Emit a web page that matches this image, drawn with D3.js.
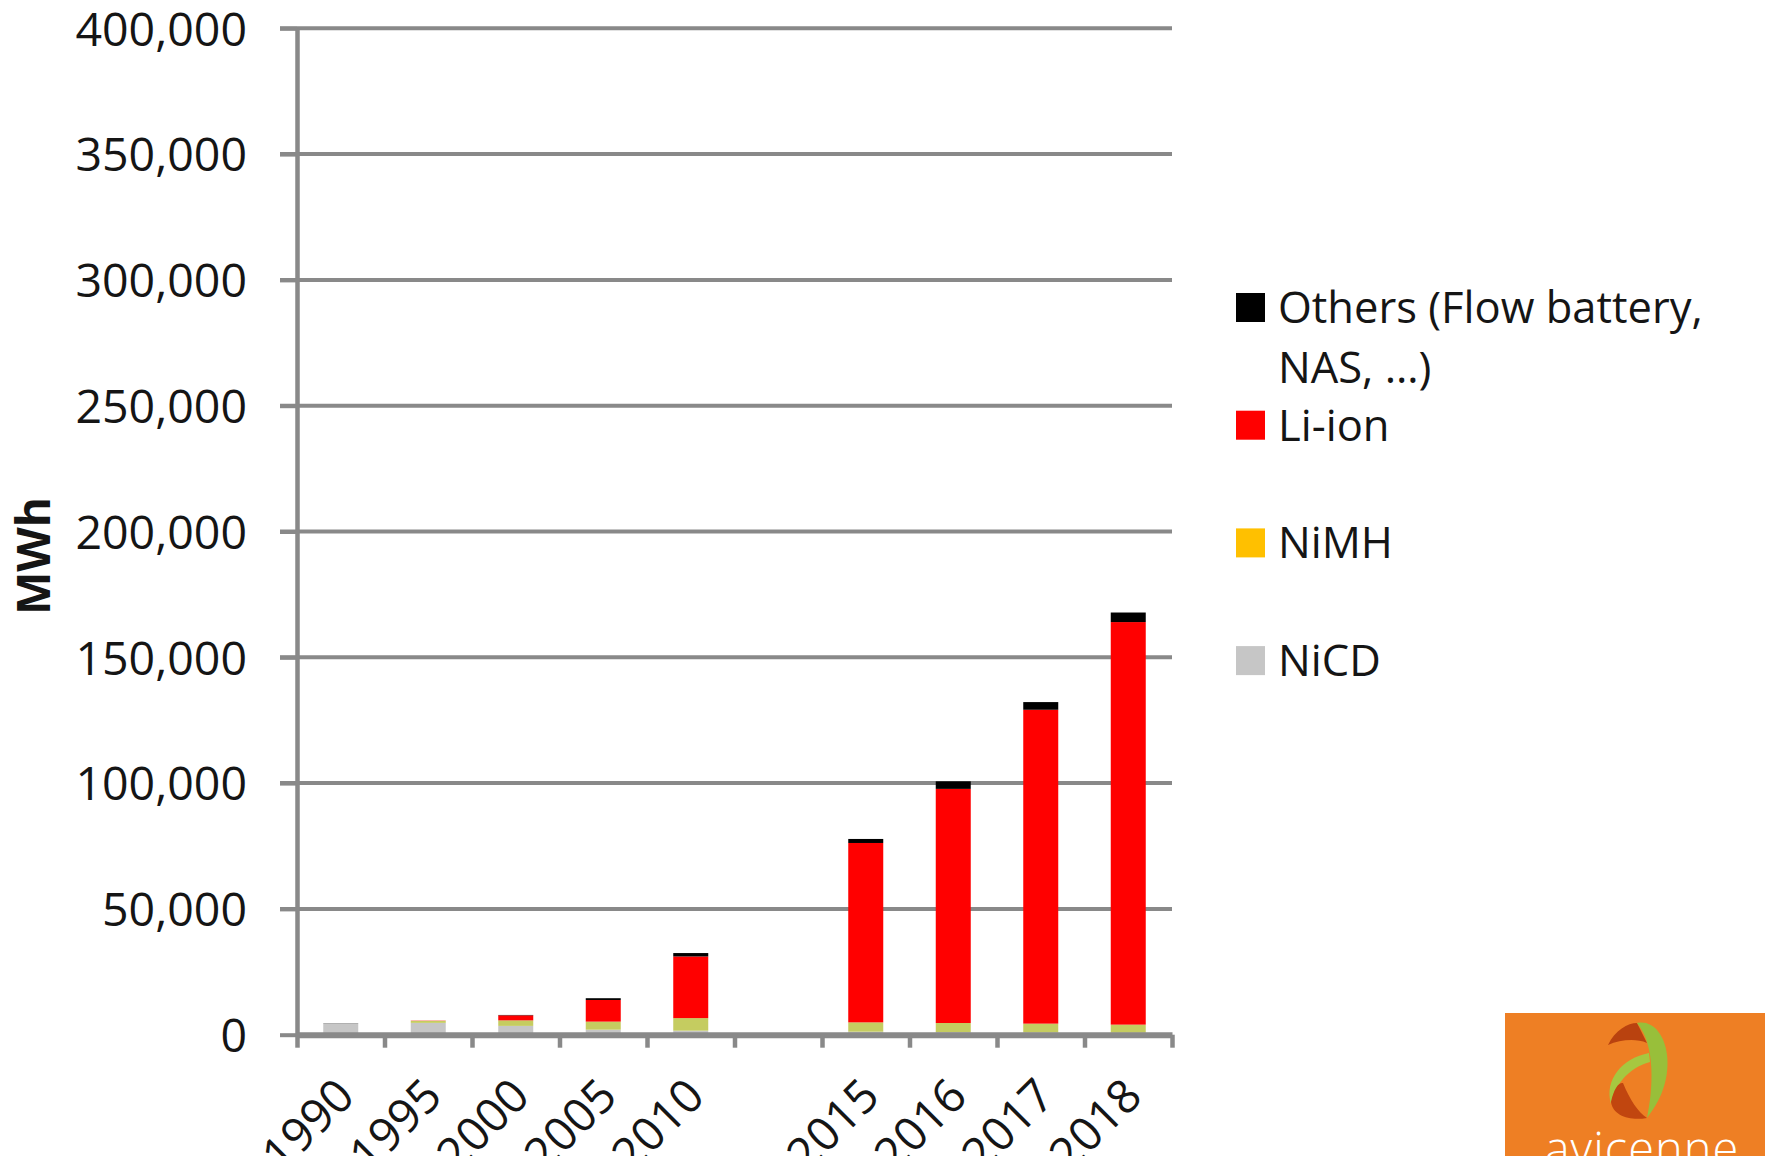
<!DOCTYPE html>
<html>
<head>
<meta charset="utf-8">
<script src="https://cdn.jsdelivr.net/npm/d3@7"></script>
<style>
  html, body { margin: 0; padding: 0; background: #ffffff; }
  svg { display: block; font-family: "Open Sans", "Liberation Sans", sans-serif; }
</style>
</head>
<body>
<svg id="chart" width="1765" height="1156"></svg>
<script>
// ---------- DATA ----------
const categories = ["1990", "1995", "2000", "2005", "2010", "", "2015", "2016", "2017", "2018"];
const nicd   = [4400, 4700, 3500, 2000, 1600, 0, 1200, 1050, 900, 800];
const nimh   = [0, 800, 2200, 3200, 5000, 0, 3700, 3600, 3500, 3200];
const liion  = [0, 100, 2000, 8600, 24500, 0, 71300, 93050, 124750, 160000];
const others = [100, 0, 150, 700, 1350, 0, 1600, 3000, 3050, 3800];
const seriesNames = ["NiCD", "NiMH", "Li-ion", "Others"];
const yTicks = [0, 50000, 100000, 150000, 200000, 250000, 300000, 350000, 400000];
const legendNames = [["Others (Flow battery,", "NAS, …)"], ["Li-ion"], ["NiMH"], ["NiCD"]];
const yTitle = "MWh";

// ---------- STYLE ----------
const barColors = { "NiCD": "#c6c6c6", "NiMH": "#c5cc60", "Li-ion": "#ff0000", "Others": "#000000" };
const legendColors = ["#000000", "#ff0000", "#ffc000", "#c6c6c6"];
const axisColor = "#898989";
const textColor = "#151515";

// ---------- LAYOUT ----------
const plotLeft = 297, plotRight = 1172, plotTop = 28.3, plotBottom = 1034.7;

const svg = d3.select("#chart");

const rows = categories.map((c, i) => ({
  cat: c, "NiCD": nicd[i], "NiMH": nimh[i], "Li-ion": liion[i], "Others": others[i]
}));

const x = d3.scaleBand().domain(categories).range([plotLeft, plotRight]).paddingInner(0.6).paddingOuter(0.3);
const xEdges = d3.scaleLinear().domain([0, categories.length]).range([plotLeft, plotRight]);
const y = d3.scaleLinear().domain([0, 400000]).range([plotBottom, plotTop]);

// gridlines
svg.append("g").selectAll("line").data(yTicks.filter(d => d > 0)).join("line")
  .attr("x1", plotLeft - 17).attr("x2", plotRight)
  .attr("y1", d => y(d)).attr("y2", d => y(d))
  .attr("stroke", axisColor).attr("stroke-width", 4);

// bars
const stack = d3.stack().keys(seriesNames)(rows);
svg.append("g").selectAll("g").data(stack).join("g")
  .attr("fill", s => barColors[s.key])
  .selectAll("rect").data(s => s).join("rect")
  .attr("x", d => x(d.data.cat))
  .attr("width", x.bandwidth())
  .attr("y", d => y(d[1]))
  .attr("height", d => Math.max(0, y(d[0]) - y(d[1])));

// y axis
const yAxis = svg.append("g").attr("transform", `translate(${plotLeft},0)`)
  .call(d3.axisLeft(y).tickValues(yTicks).tickFormat(d3.format(",")).tickSize(17).tickSizeOuter(0).tickPadding(33));
yAxis.select(".domain").attr("stroke", axisColor).attr("stroke-width", 4.5);
yAxis.selectAll(".tick line").attr("stroke", axisColor).attr("stroke-width", 4);
yAxis.selectAll(".tick text").attr("fill", textColor).attr("font-size", 46.5)
  .attr("font-family", "'Open Sans', sans-serif").attr("dy", "0.36em");

// x axis edge ticks
const xTickAxis = svg.append("g").attr("transform", `translate(0,${plotBottom})`)
  .call(d3.axisBottom(xEdges).tickValues(d3.range(categories.length + 1)).tickFormat("").tickSize(13).tickSizeOuter(0));
xTickAxis.select(".domain").attr("stroke", axisColor).attr("stroke-width", 6);
xTickAxis.selectAll(".tick line").attr("stroke", axisColor).attr("stroke-width", 4.5);

// x labels
const xAxis = svg.append("g").attr("transform", `translate(0,${plotBottom})`)
  .call(d3.axisBottom(x).tickSize(0).tickSizeOuter(0));
xAxis.select(".domain").remove();
xAxis.selectAll(".tick text")
  .attr("fill", textColor).attr("font-size", 46.5).attr("font-family", "'Open Sans', sans-serif")
  .attr("text-anchor", "end")
  .attr("dy", null).attr("y", 0)
  .attr("transform", "translate(16,64) rotate(-45)");

// y title
svg.append("text").text(yTitle)
  .attr("transform", "translate(50,556) rotate(-90)")
  .attr("text-anchor", "middle").attr("font-weight", "bold").attr("font-size", 46)
  .attr("fill", textColor);

// legend
const lx = 1236, ly0 = 293, lstep = 117.7, sw = 29;
legendNames.forEach((lines, i) => {
  const yy = ly0 + i * lstep;
  svg.append("rect").attr("x", lx).attr("y", yy).attr("width", sw).attr("height", sw).attr("fill", legendColors[i]);
  lines.forEach((t, j) => {
    svg.append("text").text(t).attr("x", lx + 42).attr("y", yy + 30 + j * 60)
      .attr("font-size", 43.5).attr("fill", textColor);
  });
});

// logo
const logo = svg.append("g");
logo.append("rect").attr("x", 1505).attr("y", 1013).attr("width", 260).attr("height", 143).attr("fill", "#ee7f24");
logo.append("path").attr("d", "M1608,1045 C1615,1030 1628,1023 1637,1023 L1647,1043 C1635,1038 1620,1040 1608,1045 Z").attr("fill", "#b9420f");
logo.append("path").attr("d", "M1637,1023 C1667,1017 1683,1075 1647,1118 C1653,1090 1656,1045 1637,1023 Z").attr("fill", "#98bf3a");
logo.append("path").attr("d", "M1649,1053 C1622,1058 1604,1080 1611,1104 C1614,1086 1628,1068 1650,1062 Z").attr("fill", "#a6c840");
logo.append("path").attr("d", "M1611,1102 C1614,1088 1619,1082 1623,1083 C1630,1100 1638,1112 1647,1118 C1630,1121 1613,1116 1611,1102 Z").attr("fill", "#c1460f");
logo.append("text").text("avicenne").attr("x", 1642).attr("y", 1166).attr("text-anchor", "middle")
  .attr("font-size", 47).attr("font-weight", 300).attr("letter-spacing", 1).attr("fill", "#ffffff");
</script>
</body>
</html>
